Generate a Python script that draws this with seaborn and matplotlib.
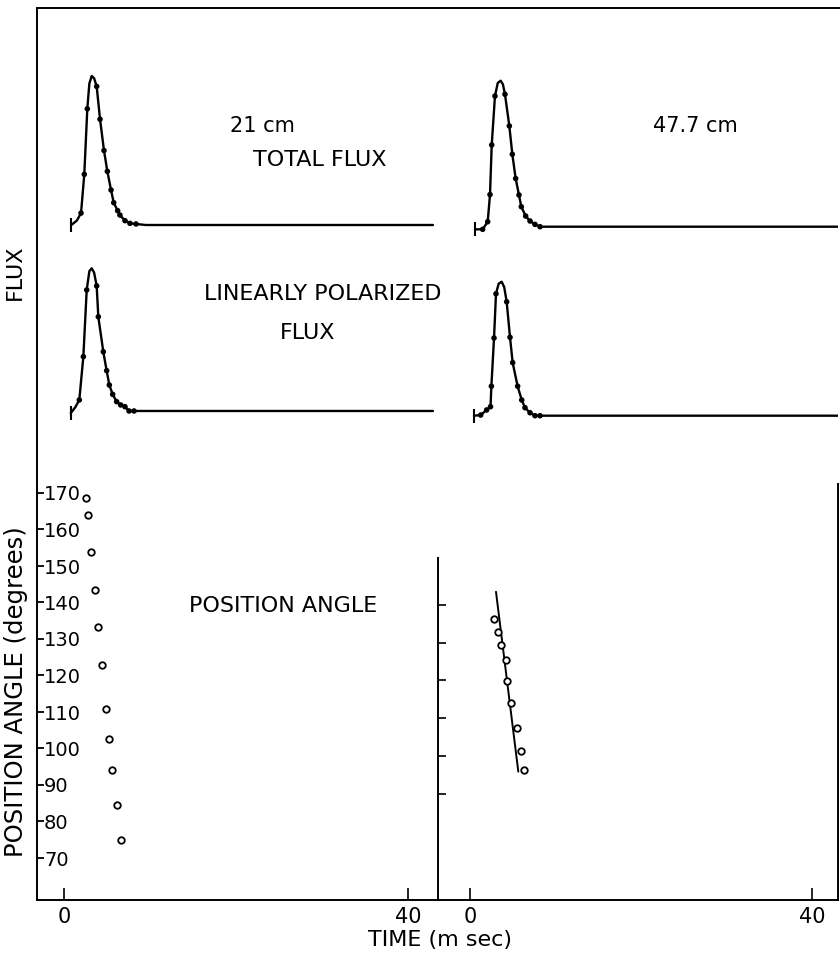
"""
Pulse profiles at 21 cm and 47.7 cm: total flux, linearly polarized flux
and position angle against time. Values read off the scanned figure.
"""

import matplotlib
matplotlib.use('Agg')
import matplotlib.pyplot as plt
from matplotlib.lines import Line2D
import pandas as pd
import seaborn as sns

# ---------------- data (time in m sec) ----------------
# 21 cm total flux: drawn curve and measured dots
tl_line_t = [0.85, 1.5, 1.98, 2.36, 2.71, 2.95, 3.22, 3.5, 3.80, 4.19, 4.65, 5.04, 5.47, 5.78,
             6.24, 6.50, 7.09, 7.67, 8.37, 9.5, 42.9]
tl_line_f = [0.0, 0.03, 0.08, 0.34, 0.78, 0.95, 1.0, 0.985, 0.93, 0.71, 0.50, 0.36, 0.235, 0.15,
             0.096, 0.067, 0.029, 0.011, 0.007, 0.0, 0.0]
tl_dot_t = [1.98, 2.36, 2.71, 3.80, 4.19, 4.65, 5.04, 5.47, 5.78, 6.24, 6.50, 7.09, 7.67, 8.37]
tl_dot_f = [0.08, 0.34, 0.78, 0.93, 0.71, 0.50, 0.36, 0.235, 0.15, 0.096, 0.067, 0.029, 0.011, 0.007]

# 47.7 cm total flux
tr_line_t = [0.58, 1.48, 2.07, 2.34, 2.54, 2.92, 3.25, 3.59, 3.85, 4.09, 4.60, 4.95, 5.34, 5.73,
             6.00, 6.51, 7.02, 7.60, 8.19, 43.0]
tr_line_f = [-0.018, -0.018, 0.034, 0.22, 0.56, 0.895, 0.985, 1.0, 0.975, 0.907, 0.69, 0.496, 0.33,
             0.217, 0.137, 0.073, 0.039, 0.016, 0.0, 0.0]
tr_dot_t = [1.48, 2.07, 2.34, 2.54, 2.92, 4.09, 4.60, 4.95, 5.34, 5.73, 6.00, 6.51, 7.02, 7.60, 8.19]
tr_dot_f = [-0.018, 0.034, 0.22, 0.56, 0.895, 0.907, 0.69, 0.496, 0.33, 0.217, 0.137, 0.073, 0.039,
            0.016, 0.0]

# 21 cm linearly polarized flux
ml_line_t = [0.78, 1.3, 1.78, 2.25, 2.64, 2.95, 3.22, 3.5, 3.80, 3.99, 4.57, 4.96, 5.27, 5.66,
             6.12, 6.59, 7.09, 7.56, 8.14, 42.9]
ml_line_f = [-0.01, 0.03, 0.082, 0.384, 0.849, 0.98, 1.0, 0.97, 0.877, 0.662, 0.418, 0.286, 0.186,
             0.121, 0.07, 0.047, 0.035, 0.005, 0.005, 0.005]
ml_dot_t = [1.78, 2.25, 2.64, 3.80, 3.99, 4.57, 4.96, 5.27, 5.66, 6.12, 6.59, 7.09, 7.56, 8.14]
ml_dot_f = [0.082, 0.384, 0.849, 0.877, 0.662, 0.418, 0.286, 0.186, 0.121, 0.07, 0.047, 0.035,
            0.005, 0.005]

# 47.7 cm linearly polarized flux
mr_line_t = [0.47, 1.25, 1.95, 2.40, 2.50, 2.81, 3.04, 3.35, 3.70, 4.0, 4.29, 4.68, 4.99, 5.57,
             6.05, 6.43, 7.02, 7.60, 8.19, 43.0]
mr_line_f = [0.0, 0.005, 0.043, 0.067, 0.22, 0.58, 0.91, 0.985, 1.0, 0.96, 0.85, 0.585, 0.396, 0.22,
             0.117, 0.06, 0.022, 0.0, 0.0, 0.0]
mr_dot_t = [1.25, 1.95, 2.40, 2.50, 2.81, 3.04, 4.29, 4.68, 4.99, 5.57, 6.05, 6.43, 7.02, 7.60, 8.19]
mr_dot_f = [0.005, 0.043, 0.067, 0.22, 0.58, 0.91, 0.85, 0.585, 0.396, 0.22, 0.117, 0.06, 0.022,
            0.0, 0.0]

# position angle (degrees)
pa_l_t = [2.56, 2.83, 3.14, 3.60, 3.92, 4.38, 4.85, 5.27, 5.58, 6.20, 6.59]
pa_l_deg = [168.6, 164.0, 153.9, 143.4, 133.4, 123.0, 110.8, 102.5, 94.2, 84.6, 75.0]
pa_r_t = [2.81, 3.24, 3.63, 4.17, 4.36, 4.76, 5.46, 5.96, 6.35]
pa_r_deg = [136.2, 132.9, 129.3, 125.4, 119.8, 113.9, 107.5, 101.4, 96.2]
pa_fit_t = [3.04, 5.65]
pa_fit_deg = [143.5, 95.8]

pa_ticks = [70, 80, 90, 100, 110, 120, 130, 140, 150, 160, 170]
pa_r_ticks = [90, 100, 110, 120, 130, 140]
time_ticks = [0, 40]

# ---------------- layout (pixels of an 840 x 955 image) ----------------
W, H = 840, 955
LEFT_X, MID_X, RIGHT_X = 37, 438, 838


def box(x0, y0, x1, y1):
    # pixel box (left, top, right, bottom) -> figure rect
    return [x0 / W, 1 - y1 / H, (x1 - x0) / W, (y1 - y0) / H]


def fpos(x, y):
    return x / W, 1 - y / H


# time axis: (pixel of t=0, pixels per ms) for each column
LEFT_T0, LEFT_SCALE = 64, 8.6
RIGHT_T0, RIGHT_SCALE = 470, 8.55
left_xlim = ((LEFT_X - LEFT_T0) / LEFT_SCALE, (MID_X - LEFT_T0) / LEFT_SCALE)
right_xlim = ((MID_X - RIGHT_T0) / RIGHT_SCALE, (RIGHT_X - RIGHT_T0) / RIGHT_SCALE)

sns.set_theme(style='white')
plt.rcParams['font.family'] = ['DejaVu Sans']
plt.rcParams['axes.linewidth'] = 1.4

fig = plt.figure(figsize=(W / 100, H / 100), dpi=100)


def flux_panel(x0, x1, baseline, peak, xlim, line_t, line_f, dot_t, dot_f):
    amp = baseline - peak
    ax = fig.add_axes(box(x0, peak - 0.1 * amp, x1, baseline + 0.1 * amp))
    line_df = pd.DataFrame({'t': line_t, 'f': line_f})
    dot_df = pd.DataFrame({'t': dot_t, 'f': dot_f})
    sns.lineplot(data=line_df, x='t', y='f', sort=False, estimator=None,
                 color='black', lw=1.7, ax=ax)
    sns.scatterplot(data=dot_df, x='t', y='f', color='black', s=16,
                    edgecolor='none', ax=ax, zorder=3)
    # little start bar at the beginning of each trace
    ax.plot(line_t[0], line_f[0], marker='|', ms=10, mew=1.5, color='black')
    ax.set_xlim(xlim)
    ax.set_ylim(-0.1, 1.1)
    ax.axis('off')
    return ax


flux_panel(LEFT_X, MID_X, 225, 76, left_xlim, tl_line_t, tl_line_f, tl_dot_t, tl_dot_f)
flux_panel(MID_X, RIGHT_X, 226.7, 80.7, right_xlim, tr_line_t, tr_line_f, tr_dot_t, tr_dot_f)
flux_panel(LEFT_X, MID_X, 411.7, 268.3, left_xlim, ml_line_t, ml_line_f, ml_dot_t, ml_dot_f)
flux_panel(MID_X, RIGHT_X, 415.7, 281.7, right_xlim, mr_line_t, mr_line_f, mr_dot_t, mr_dot_f)

# ---- position angle, 21 cm ----
ax_pl = fig.add_axes(box(LEFT_X, 470, MID_X, 900))
sns.scatterplot(x=pa_l_t, y=pa_l_deg, marker='o', s=22, facecolor='white',
                edgecolor='black', linewidth=1.3, ax=ax_pl)
ax_pl.set_xlim(left_xlim)
ax_pl.set_ylim(70 - 42 / 3.65, 70 + 388 / 3.65)
ax_pl.set_yticks(pa_ticks, labels=[str(v) for v in pa_ticks], ha='left')
ax_pl.set_xticks(time_ticks, labels=[str(v) for v in time_ticks])
ax_pl.tick_params(axis='y', direction='in', length=5, width=1.3, pad=-5, labelsize=14,
                  left=True, colors='black')
ax_pl.tick_params(axis='x', direction='in', length=9, width=1.2, pad=5, labelsize=15,
                  bottom=True, colors='black')
for side in ['top', 'right', 'left']:
    ax_pl.spines[side].set_visible(False)
ax_pl.spines['bottom'].set_color('black')

# ---- position angle, 47.7 cm ----
ax_pr = fig.add_axes(box(MID_X, 484, RIGHT_X, 900))
sns.lineplot(x=pa_fit_t, y=pa_fit_deg, color='black', lw=1.4, ax=ax_pr)
sns.scatterplot(x=pa_r_t, y=pa_r_deg, marker='o', s=22, facecolor='white',
                edgecolor='black', linewidth=1.3, ax=ax_pr, zorder=3)
ax_pr.set_xlim(right_xlim)
ylo = 140 - 295 / 3.77
ax_pr.set_ylim(ylo, 140 + 121 / 3.77)
ax_pr.set_yticks(pa_r_ticks, labels=[])
ax_pr.set_xticks(time_ticks, labels=[str(v) for v in time_ticks])
ax_pr.tick_params(axis='y', direction='in', length=6, width=1.2, left=True, colors='black')
ax_pr.tick_params(axis='x', direction='in', length=9, width=1.2, pad=5, labelsize=15,
                  bottom=True, colors='black')
ax_pr.spines['top'].set_visible(False)
ax_pr.spines['left'].set_bounds(ylo, 140 + 47 / 3.77)
for side in ['left', 'right', 'bottom']:
    ax_pr.spines[side].set_color('black')

# ---- outer frame: long left spine and top rule ----
fig.add_artist(Line2D([LEFT_X / W, LEFT_X / W], [1 - 900 / H, 1 - 8 / H],
                      color='black', lw=1.4))
fig.add_artist(Line2D([LEFT_X / W, 1.0], [1 - 8 / H, 1 - 8 / H], color='black', lw=1.4))

# ---- text ----
txt = dict(color='black', fontsize=16)
fig.text(*fpos(230, 126), '21 cm', ha='left', va='center', color='black', fontsize=15)
fig.text(*fpos(253, 160), 'TOTAL FLUX', ha='left', va='center', **txt)
fig.text(*fpos(695, 126), '47.7 cm', ha='center', va='center', color='black', fontsize=15)
fig.text(*fpos(442, 294), 'LINEARLY POLARIZED', ha='right', va='center', **txt)
fig.text(*fpos(280, 333), 'FLUX', ha='left', va='center', **txt)
fig.text(*fpos(283, 606), 'POSITION ANGLE', ha='center', va='center', **txt)
fig.text(*fpos(15, 272), 'FLUX', rotation=90, ha='center', va='center', color='black',
         fontsize=16)
fig.text(*fpos(16, 692), 'POSITION ANGLE (degrees)', rotation=90, ha='center', va='center',
         color='black', fontsize=17.5)
fig.text(*fpos(440, 940), 'TIME (m sec)', ha='center', va='center', **txt)

fig.savefig('out.png', dpi=100, facecolor='white')
